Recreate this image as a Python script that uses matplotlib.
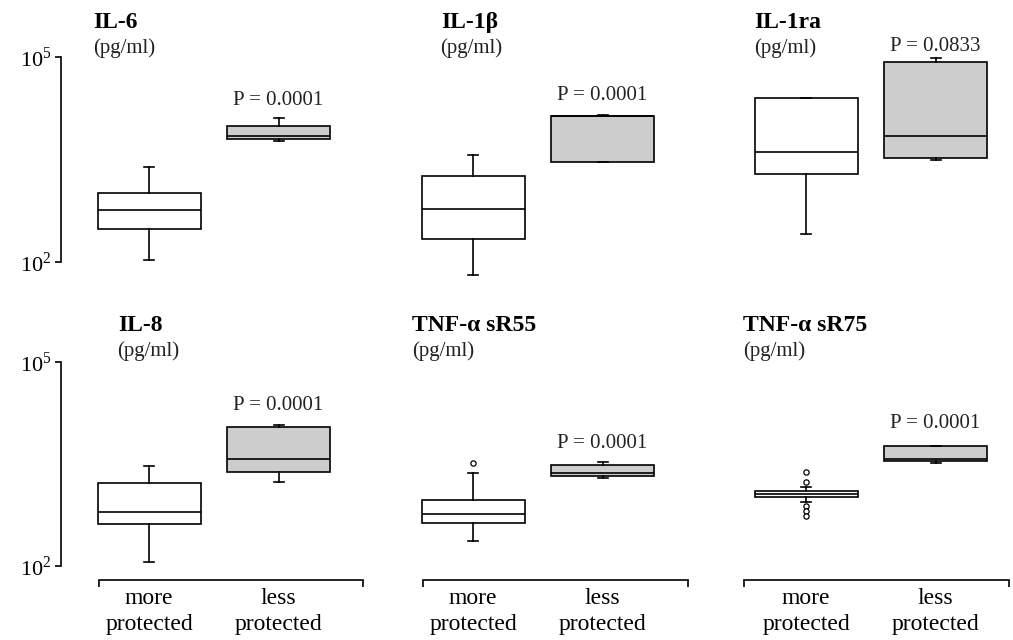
import matplotlib
matplotlib.use("Agg")
import matplotlib.pyplot as plt
from matplotlib.ticker import NullLocator

plt.rcParams['font.family'] = ['Liberation Serif', 'DejaVu Serif']
plt.rcParams['mathtext.fontset'] = 'custom'
plt.rcParams['mathtext.rm'] = 'Liberation Serif'

# ---- data (pg/ml) ----
names = ["IL-6", "IL-1\u03b2", "IL-1ra", "IL-8", "TNF-\u03b1 sR55", "TNF-\u03b1 sR75"]
p_values = ["0.0001", "0.0001", "0.0833", "0.0001", "0.0001", "0.0001"]
groups = ["more\nprotected", "less\nprotected"]

more_whislo = [107, 65, 257, 115, 232, 870]
more_q1 = [304, 216, 1940, 412, 426, 1020]
more_med = [575, 595, 4070, 616, 575, 1130]
more_q3 = [1030, 1820, 25000, 1650, 925, 1260]
more_whishi = [2450, 3700, 25000, 3000, 2300, 1440]
more_fliers = [[], [], [], [], [3240], [2380, 1700, 760, 640, 540]]

less_whislo = [5900, 2880, 3100, 1740, 2000, 3240]
less_q1 = [6300, 2880, 3300, 2450, 2080, 3550]
less_med = [6900, 13700, 6900, 3700, 2300, 3800]
less_q3 = [9800, 13700, 85000, 10900, 3100, 5750]
less_whishi = [12800, 14100, 96000, 12000, 3330, 5900]
less_fliers = [[], [], [], [], [], []]

# ---- layout (pixels) ----
W, H = 1013, 640
fig = plt.figure(figsize=(W / 100, H / 100), dpi=100)

col_left = [61, 385, 718]
ax_w = 2.4 * 129.5
row_ylim = [(10 ** 1.7, 10 ** 5.1), (10 ** 1.794, 10 ** 5.1)]
row_top = [50.2, 355.2]
row_bot = [282.5, 580]
bracket = [(0.61, 2.65), (0.61, 2.66), (0.52, 2.57)]
title_pos = [(93, 28), (441, 28), (754, 28), (118, 331), (412, 331), (743, 331)]
unit_pos = [(93, 53), (440, 53), (754, 53), (117, 356), (412, 356), (743, 356)]
p_offset = [13, 15, 7, 15, 14, 18]

lw = 1.2
for i in range(6):
    r, c = divmod(i, 3)
    ax = fig.add_axes([col_left[c] / W, 1 - row_bot[r] / H,
                       ax_w / W, (row_bot[r] - row_top[r]) / H])
    stats = [
        dict(whislo=more_whislo[i], q1=more_q1[i], med=more_med[i],
             q3=more_q3[i], whishi=more_whishi[i], fliers=more_fliers[i]),
        dict(whislo=less_whislo[i], q1=less_q1[i], med=less_med[i],
             q3=less_q3[i], whishi=less_whishi[i], fliers=less_fliers[i]),
    ]
    bp = ax.bxp(stats, positions=[1, 2], widths=0.795, patch_artist=True,
                capwidths=0.077, manage_ticks=False,
                boxprops=dict(edgecolor='black', linewidth=lw),
                medianprops=dict(color='black', linewidth=lw),
                whiskerprops=dict(color='black', linewidth=lw),
                capprops=dict(color='black', linewidth=lw),
                flierprops=dict(marker='o', markersize=3.8, markerfacecolor='white',
                                markeredgecolor='black', markeredgewidth=0.9))
    bp['boxes'][0].set_facecolor('white')
    bp['boxes'][1].set_facecolor('#cdcdcd')

    ax.set_yscale('log')
    ax.set_ylim(*row_ylim[r])
    ax.set_xlim(0.32, 2.72)
    ax.yaxis.set_minor_locator(NullLocator())
    ax.xaxis.set_minor_locator(NullLocator())
    for s in ['top', 'right']:
        ax.spines[s].set_visible(False)

    if c == 0:
        ax.spines['left'].set_bounds(1e2, 1e5)
        ax.spines['left'].set_linewidth(lw)
        ax.set_yticks([1e2, 1e5], [r'$10^2$', r'$10^5$'])
        ax.tick_params(axis='y', length=4, width=lw, labelsize=16, pad=3)
    else:
        ax.spines['left'].set_visible(False)
        ax.set_yticks([])

    if r == 1:
        ax.spines['bottom'].set_bounds(*bracket[c])
        ax.spines['bottom'].set_linewidth(lw)
        ax.set_xticks(list(bracket[c]), ['', ''])
        ax.tick_params(axis='x', which='major', length=5, width=lw, direction='out')
        ax.set_xticks([1, 2], groups, minor=True)
        ax.tick_params(axis='x', which='minor', length=0, labelsize=17, pad=6)
        for lab in ax.get_xticklabels(minor=True):
            lab.set_linespacing(1.3)
    else:
        ax.spines['bottom'].set_visible(False)
        ax.set_xticks([])

    ax.annotate("P = " + p_values[i], xy=(2, less_whishi[i]),
                xytext=(0, p_offset[i]), textcoords='offset pixels',
                ha='center', va='baseline', fontsize=15, color='#222222')

    tx, ty = title_pos[i]
    fig.text(tx / W, 1 - ty / H, names[i], fontsize=17, fontweight='bold',
             ha='left', va='baseline')
    ux, uy = unit_pos[i]
    fig.text(ux / W, 1 - uy / H, "(pg/ml)", fontsize=15, ha='left',
             va='baseline', color='#222222')

fig.savefig("out.png", dpi=100)
